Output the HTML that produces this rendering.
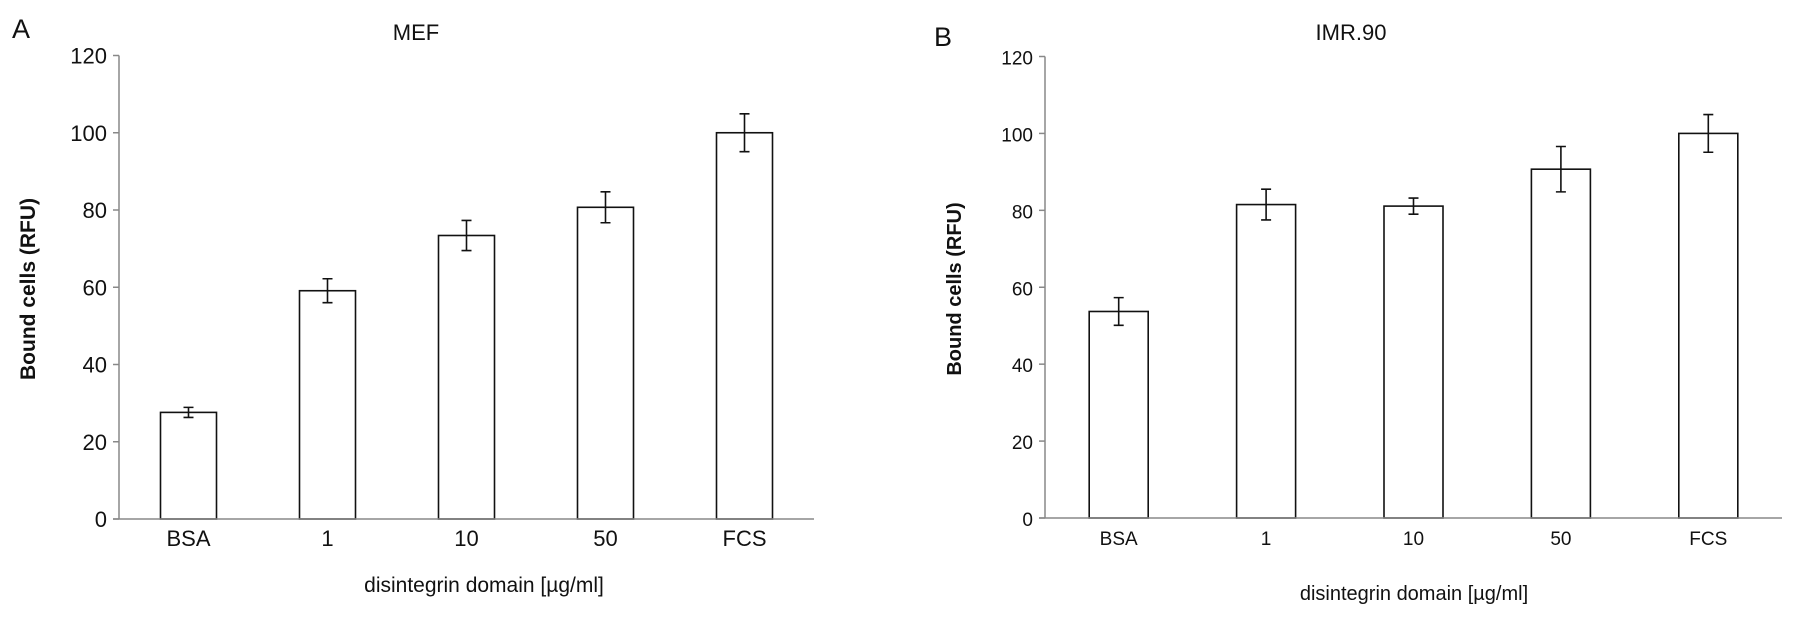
<!DOCTYPE html>
<html><head><meta charset="utf-8">
<style>
html,body{margin:0;padding:0;background:#fff;}
svg{display:block;}
text{font-family:"Liberation Sans",Arial,sans-serif;fill:#111;}
</style></head>
<body>
<svg id="fig" width="1795" height="620" viewBox="0 0 1795 620" xmlns="http://www.w3.org/2000/svg">
<text x="12" y="38" font-size="27">A</text>
<text x="416" y="40" font-size="22" text-anchor="middle">MEF</text>
<text x="484" y="592" font-size="21" text-anchor="middle">disintegrin domain [µg/ml]</text>
<text transform="translate(35,289) rotate(-90)" font-size="21" font-weight="bold" text-anchor="middle">Bound cells (RFU)</text>
<text x="934" y="46" font-size="27">B</text>
<text x="1351" y="40" font-size="22" text-anchor="middle">IMR.90</text>
<text x="1414" y="600" font-size="20" text-anchor="middle">disintegrin domain [µg/ml]</text>
<text transform="translate(961,289) rotate(-90)" font-size="20" font-weight="bold" text-anchor="middle">Bound cells (RFU)</text>
</svg>
<script>
const categories = ["BSA","1","10","50","FCS"];
const mefValues = [27.6, 59.1, 73.4, 80.7, 100];
const mefErrors = [1.3, 3.1, 3.9, 4.0, 4.9];
const imrValues = [53.7, 81.5, 81.1, 90.7, 100];
const imrErrors = [3.6, 4.0, 2.1, 5.9, 4.9];
const yTicks = [0,20,40,60,80,100,120];

const NS = "http://www.w3.org/2000/svg";
const svg = document.getElementById("fig");
function mk(tag, attrs){const e=document.createElementNS(NS,tag);for(const k in attrs)e.setAttribute(k,attrs[k]);svg.appendChild(e);return e;}

function panel(p, vals, errs, cfg){
  const yScale = v => cfg.y0 - (v/120)*(cfg.y0-cfg.y120);
  const step = (cfg.xEnd - cfg.x0)/categories.length;
  const xScale = i => cfg.x0 + step*(i+0.5);
  let ax = mk("line",{x1:cfg.x0,y1:cfg.y120,x2:cfg.x0,y2:cfg.y0,stroke:"#888","stroke-width":1.5});
  
  
  yTicks.forEach(t=>{
    const y=yScale(t);
    let tk=mk("line",{x1:cfg.x0-6,y1:y,x2:cfg.x0,y2:y,stroke:"#888","stroke-width":1.5});
    
    
    let tl=mk("text",{x:cfg.x0-12,y:y+8,"font-size":cfg.fs,"text-anchor":"end"});
    tl.textContent=t;
    
    
  });
  vals.forEach((v,i)=>{
    const cx=xScale(i), w=cfg.bw;
    let b=mk("rect",{x:cx-w/2,y:yScale(v),width:w,height:yScale(0)-yScale(v),fill:"#fff",stroke:"#111","stroke-width":1.6});
    
    
    const yt=yScale(v+errs[i]), yb=yScale(v-errs[i]);
    let eb=mk("path",{d:`M${cx},${yt}V${yb}M${cx-5},${yt}H${cx+5}M${cx-5},${yb}H${cx+5}`,stroke:"#111","stroke-width":1.6,fill:"none"});
    
    
    let xl=mk("text",{x:cx,y:cfg.y0+27,"font-size":cfg.fs,"text-anchor":"middle"});
    xl.textContent=categories[i];
    
    
  });
  let xa=mk("line",{x1:cfg.x0-6,y1:cfg.y0,x2:cfg.xEnd,y2:cfg.y0,stroke:"#888","stroke-width":1.5});
  
  
}
panel("panel-a", mefValues, mefErrors, {x0:119,xEnd:814,y0:519,y120:55.5,bw:56,fs:22});
panel("panel-b", imrValues, imrErrors, {x0:1045,xEnd:1782,y0:518,y120:56.5,bw:59,fs:19});
</script>
</body></html>
